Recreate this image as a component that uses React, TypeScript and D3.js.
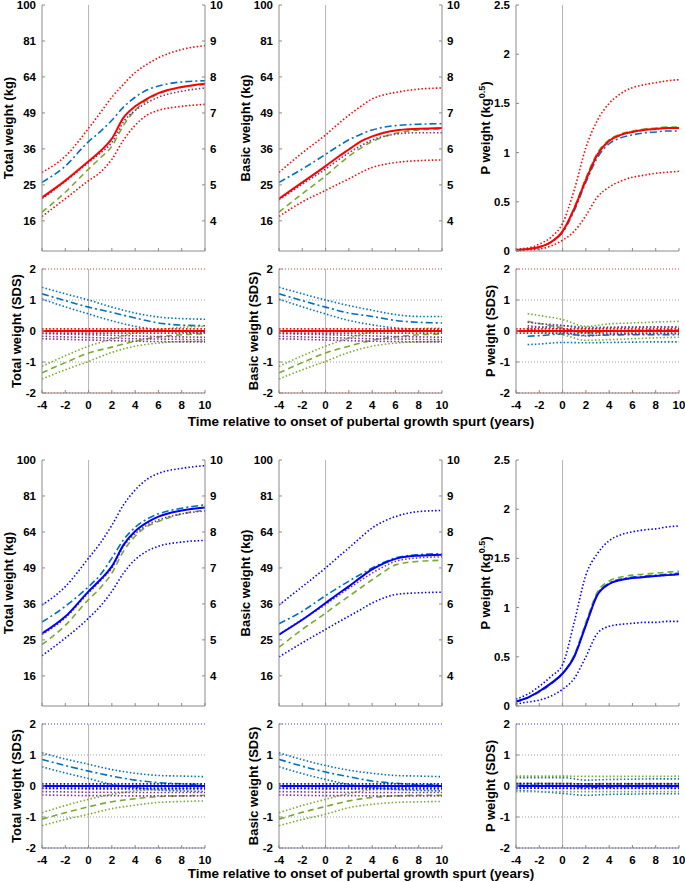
import React from 'react';
import * as d3 from 'd3';

// time points (years relative to onset of pubertal growth spurt)
const tW = [-4, -2, 0, 1, 2, 3, 4, 5, 6, 8, 10];
const tP = [-4, -3, -2, -1, 0, 1, 2, 3, 4, 5, 6, 7, 8, 9, 10];
const tS = [-4, -2, 0, 2, 4, 6, 8, 10];
const tSF = [-3, -2, 0, 2, 4, 6, 8, 10];

// girls, total weight (kg)
const fTotMean = [21.6, 26.2, 32, 35.2, 39.5, 47.2, 51.6, 54.6, 57, 59.6, 61];
const fTotUp = [28.6, 33.6, 43.2, 49, 55.3, 60.8, 66, 69.7, 72.8, 76.8, 78.7];
const fTotLo = [17, 21.3, 26.2, 28.6, 32.6, 39, 44.3, 48.1, 50, 51.6, 52.4];
const fTotBlue = [25.7, 30.5, 38.5, 42, 46.2, 51.3, 55.3, 58.3, 60, 61.8, 62.3];
const fTotGreen = [18, 23, 29.6, 33, 36.9, 44.3, 50, 54, 56.7, 59.5, 60.7];
const fTotPurple = [21.3, 26, 31.6, 34.6, 38.2, 45.6, 50, 53, 55.3, 57.8, 59.2];
// girls, basic weight (kg)
const fBasMean = [21.3, 25.7, 30.5, 33.2, 35.8, 38.5, 40.3, 41.6, 42.4, 43, 43.3];
const fBasUp = [28.6, 34.7, 40.8, 44.5, 48.1, 51.5, 54.6, 56.3, 57.3, 58.7, 59.2];
const fBasLo = [17, 20.5, 23.5, 25.1, 26.7, 28.5, 30.1, 31, 31.6, 32.2, 32.4];
const fBasBlue = [25.7, 29.6, 34.2, 36.7, 39.1, 41, 42.6, 43.6, 44.2, 44.7, 44.9];
const fBasGreen = [18, 22.6, 27.6, 30.6, 33.6, 36.2, 38.5, 40.2, 41.4, 42.6, 43];
const fBasPurple = [21, 25.2, 29.6, 32.2, 34.7, 37, 39, 40.3, 41.1, 41.6, 41.6];
// girls, P weight (kg^0.5)
const fPMean = [0.01, 0.02, 0.04, 0.09, 0.2, 0.43, 0.72, 0.98, 1.12, 1.18, 1.21, 1.23, 1.24, 1.25, 1.25];
const fPUp = [0.02, 0.03, 0.07, 0.14, 0.28, 0.62, 1.05, 1.33, 1.5, 1.6, 1.66, 1.69, 1.71, 1.73, 1.74];
const fPLo = [0, 0.01, 0.02, 0.05, 0.11, 0.2, 0.36, 0.55, 0.65, 0.71, 0.75, 0.77, 0.79, 0.8, 0.81];
const fPBlue = [0.01, 0.02, 0.04, 0.09, 0.19, 0.41, 0.7, 0.95, 1.09, 1.15, 1.18, 1.2, 1.21, 1.22, 1.22];
const fPGreen = [0.01, 0.02, 0.04, 0.09, 0.2, 0.44, 0.74, 1.0, 1.13, 1.19, 1.22, 1.24, 1.25, 1.26, 1.26];
const fPPurple = [0.01, 0.02, 0.04, 0.09, 0.2, 0.43, 0.73, 0.98, 1.12, 1.18, 1.21, 1.23, 1.24, 1.25, 1.25];

// boys, total weight (kg)
const mTotMean = [26.8, 31.9, 40.3, 44.5, 49.6, 58.4, 64.3, 68.2, 71, 73.9, 75.3];
const mTotUp = [35.6, 42, 52.9, 59.1, 67, 76.6, 84, 89.5, 92.7, 95.4, 96.9];
const mTotLo = [20.8, 25.5, 31.4, 35.2, 40.3, 47, 52.3, 55.7, 57.8, 59.6, 60.3];
const mTotBlue = [30.2, 35.2, 42, 46.3, 52.9, 60.5, 66.1, 69.8, 72.3, 75, 76.6];
const mTotGreen = [23.7, 29.2, 37.5, 41.5, 47, 55.7, 62.1, 66.4, 68.7, 72.3, 73.9];
const mTotPurple = [26.5, 31.5, 39.8, 44, 49, 57.7, 63.2, 67, 69.4, 72.3, 73.7];
// boys, basic weight (kg)
const mBasMean = [26.5, 30.9, 36.3, 39.2, 42.1, 45.3, 48.4, 50.8, 52.6, 53.9, 54.3];
const mBasUp = [35.6, 42, 49, 53, 57.1, 61.5, 65.8, 68.8, 71, 73.4, 73.9];
const mBasLo = [20.5, 24.2, 28, 30, 32, 34.1, 36.3, 38, 39.2, 39.8, 40];
const mBasBlue = [29.7, 33.6, 38.8, 41.4, 44, 46.5, 49, 51.2, 53, 54.3, 54.7];
const mBasGreen = [23, 28, 33, 35.8, 38.6, 41.5, 44.5, 47.5, 50.2, 51.6, 52];
const mBasPurple = [26.5, 31, 35.8, 38.6, 41.4, 44.2, 47, 49.5, 51.6, 53, 53.4];
// boys, P weight (kg^0.5)
const mPMean = [0.045, 0.085, 0.15, 0.23, 0.33, 0.5, 0.82, 1.13, 1.24, 1.28, 1.3, 1.31, 1.32, 1.33, 1.34];
const mPUp = [0.07, 0.12, 0.2, 0.3, 0.42, 0.85, 1.33, 1.55, 1.68, 1.74, 1.77, 1.79, 1.8, 1.82, 1.83];
const mPLo = [0.02, 0.04, 0.06, 0.1, 0.17, 0.28, 0.5, 0.74, 0.81, 0.83, 0.84, 0.85, 0.85, 0.86, 0.86];
const mPBlue = [0.045, 0.085, 0.15, 0.23, 0.33, 0.51, 0.83, 1.14, 1.25, 1.29, 1.31, 1.32, 1.33, 1.34, 1.35];
const mPGreen = [0.04, 0.08, 0.14, 0.22, 0.33, 0.52, 0.85, 1.16, 1.27, 1.31, 1.33, 1.34, 1.35, 1.36, 1.37];
const mPPurple = [0.045, 0.085, 0.15, 0.23, 0.33, 0.5, 0.82, 1.13, 1.24, 1.28, 1.3, 1.31, 1.32, 1.33, 1.34];

// SDS, girls
const fTotSdsBlue = [1.2, 0.98, 0.77, 0.6, 0.42, 0.26, 0.19, 0.17];
const fTotSdsBlueUp = [1.41, 1.2, 1.0, 0.77, 0.58, 0.45, 0.4, 0.38];
const fTotSdsBlueLo = [1.03, 0.78, 0.55, 0.33, 0.15, 0.04, -0.03, -0.06];
const fTotSdsGreen = [-1.35, -1.02, -0.71, -0.52, -0.33, -0.19, -0.12, -0.09];
const fTotSdsGreenUp = [-1.14, -0.8, -0.49, -0.26, -0.06, 0.04, 0.12, 0.15];
const fTotSdsGreenLo = [-1.55, -1.25, -0.98, -0.69, -0.49, -0.39, -0.34, -0.33];
const fBasSdsBlue = [1.2, 0.98, 0.77, 0.58, 0.47, 0.34, 0.28, 0.26];
const fBasSdsBlueUp = [1.41, 1.2, 1.0, 0.82, 0.67, 0.53, 0.47, 0.47];
const fBasSdsBlueLo = [1.03, 0.78, 0.55, 0.34, 0.2, 0.1, 0.06, 0.04];
const fBasSdsGreen = [-1.35, -1.02, -0.71, -0.49, -0.3, -0.19, -0.12, -0.1];
const fBasSdsGreenUp = [-1.14, -0.8, -0.49, -0.23, -0.03, 0.04, 0.08, 0.09];
const fBasSdsGreenLo = [-1.55, -1.25, -0.98, -0.69, -0.49, -0.39, -0.35, -0.34];
const fSdsPurple = [-0.17, -0.19, -0.21, -0.23, -0.25, -0.26, -0.27, -0.28];
const fSdsPurpleUp = [-0.08, -0.1, -0.12, -0.14, -0.16, -0.18, -0.19, -0.2];
const fSdsPurpleLo = [-0.25, -0.27, -0.29, -0.31, -0.33, -0.34, -0.35, -0.35];
const fPSdsGreen = [0.31, 0.24, 0.1, -0.06, -0.01, 0.02, 0.03, 0.04];
const fPSdsGreenUp = [0.56, 0.5, 0.37, 0.15, 0.23, 0.26, 0.29, 0.31];
const fPSdsGreenLo = [0.04, -0.02, -0.12, -0.3, -0.28, -0.25, -0.22, -0.2];
const fPSdsBlue = [-0.17, -0.15, -0.1, -0.14, -0.13, -0.12, -0.12, -0.12];
const fPSdsBlueUp = [0.1, 0.12, 0.17, 0.12, 0.12, 0.13, 0.13, 0.13];
const fPSdsBlueLo = [-0.44, -0.42, -0.37, -0.38, -0.37, -0.36, -0.35, -0.35];
const fPSdsPurple = [0.17, 0.13, 0.07, -0.04, 0, 0.01, 0.02, 0.02];
const fPSdsPurpleUp = [0.28, 0.24, 0.18, 0.08, 0.11, 0.12, 0.13, 0.13];
const fPSdsPurpleLo = [0.06, 0.02, -0.04, -0.16, -0.11, -0.1, -0.09, -0.09];

// SDS, boys
const mTotSdsBlue = [0.86, 0.66, 0.48, 0.32, 0.19, 0.11, 0.07, 0.05];
const mTotSdsBlueUp = [1.07, 0.87, 0.7, 0.53, 0.41, 0.34, 0.32, 0.3];
const mTotSdsBlueLo = [0.62, 0.42, 0.24, 0.05, -0.05, -0.13, -0.16, -0.18];
const mTotSdsGreen = [-1.07, -0.86, -0.67, -0.51, -0.41, -0.34, -0.32, -0.3];
const mTotSdsGreenUp = [-0.86, -0.63, -0.43, -0.27, -0.16, -0.11, -0.09, -0.06];
const mTotSdsGreenLo = [-1.28, -1.08, -0.91, -0.73, -0.62, -0.53, -0.5, -0.48];
const mBasSdsBlue = [0.86, 0.64, 0.45, 0.3, 0.16, 0.09, 0.05, 0.05];
const mBasSdsBlueUp = [1.07, 0.85, 0.66, 0.51, 0.41, 0.34, 0.32, 0.3];
const mBasSdsBlueLo = [0.62, 0.4, 0.21, 0.05, -0.05, -0.11, -0.14, -0.16];
const mBasSdsGreen = [-1.07, -0.85, -0.66, -0.48, -0.37, -0.32, -0.3, -0.3];
const mBasSdsGreenUp = [-0.86, -0.63, -0.43, -0.24, -0.11, -0.05, -0.02, -0.02];
const mBasSdsGreenLo = [-1.28, -1.08, -0.91, -0.7, -0.59, -0.53, -0.51, -0.5];
const mSdsPurple = [-0.18, -0.19, -0.2, -0.2, -0.21, -0.21, -0.21, -0.21];
const mSdsPurpleUp = [-0.08, -0.09, -0.1, -0.1, -0.11, -0.11, -0.11, -0.11];
const mSdsPurpleLo = [-0.29, -0.3, -0.31, -0.31, -0.32, -0.32, -0.32, -0.32];
const mPSdsGreen = [0.08, 0.08, 0.08, 0.07, 0.07, 0.07, 0.07, 0.07];
const mPSdsGreenUp = [0.32, 0.32, 0.32, 0.31, 0.31, 0.31, 0.31, 0.32];
const mPSdsGreenLo = [-0.18, -0.18, -0.18, -0.18, -0.18, -0.18, -0.18, -0.18];
const mPSdsBlue = [0.02, 0.02, 0.01, -0.04, -0.03, -0.02, -0.02, -0.02];
const mPSdsBlueUp = [0.27, 0.27, 0.27, 0.19, 0.21, 0.22, 0.23, 0.23];
const mPSdsBlueLo = [-0.13, -0.18, -0.24, -0.3, -0.27, -0.26, -0.25, -0.25];
const mPSdsPurple = [0.01, 0.01, 0, -0.01, 0, 0, 0, 0];
const mPSdsPurpleUp = [0.09, 0.09, 0.08, 0.07, 0.08, 0.08, 0.08, 0.08];
const mPSdsPurpleLo = [-0.07, -0.07, -0.08, -0.09, -0.08, -0.08, -0.08, -0.08];

// reference (whole group) SDS: mean and band
const refSds = [0, 0, 0, 0, 0, 0, 0, 0];
const refSdsUp = [0.07, 0.07, 0.07, 0.07, 0.07, 0.07, 0.07, 0.07];
const refSdsLo = [-0.07, -0.07, -0.07, -0.07, -0.07, -0.07, -0.07, -0.07];

const xTicks = [-4, -2, 0, 2, 4, 6, 8, 10];
const kgTicks = [16, 25, 36, 49, 64, 81, 100];
const rootTicks = [4, 5, 6, 7, 8, 9, 10];
const pTicks = [0, 0.5, 1, 1.5, 2, 2.5];
const sdsTicks = [-2, -1, 0, 1, 2];

const RED = '#ff0000';
const BLUE = '#0000ff';
const SUB = '#0072bd';
const GREEN = '#77ac30';
const PURPLE = '#7e2f8e';
const AXIS = '#8a8a8a';
const FONT = '"Liberation Sans", Arial, sans-serif';
const TICK = 11.5;

const dashes: Record<string, string | undefined> = {
  solid: undefined,
  dot: '1.5 2.1',
  dash: '6 4',
  dashdot: '7 3 2 3',
};

type Series = { t: number[]; v: number[]; color: string; style: string; w?: number };

const W = 163;
const cols = [42, 279, 516];
let clipCount = 0;

function Panel(props: {
  x0: number; y0: number; h: number;
  y: any; yTicks: number[]; yFmt?: (d: number) => string;
  right?: any; series: Series[]; label: React.ReactNode; gap: number;
  refs?: { v: number; color: string }[]; xLabels?: boolean;
}) {
  const { x0, y0, h, y, yTicks, yFmt, right, series, label, gap, refs, xLabels } = props;
  const x = d3.scaleLinear().domain([-4, 10]).range([x0, x0 + W]);
  const yb = y0 + h;
  const id = `clip${clipCount++}`;
  const fmt = yFmt || ((d: number) => String(d));
  return (
    <g>
      <defs>
        <clipPath id={id}>
          <rect x={x0} y={y0 - 2} width={W + 1} height={h + 4} />
        </clipPath>
      </defs>
      {(refs || []).map((r, i) => (
        <line key={'r' + i} x1={x0} x2={x0 + W} y1={y(r.v)} y2={y(r.v)}
          stroke={r.color} strokeWidth={0.8} strokeDasharray="1 2" />
      ))}
      <line x1={x(0)} x2={x(0)} y1={y0} y2={yb} stroke="#b4b4b4" strokeWidth={1} />
      <g clipPath={`url(#${id})`}>
        {series.map((s, i) => {
          const line = d3.line<number>()
            .x((_, j) => x(s.t[j]))
            .y((v) => y(v))
            .curve(d3.curveMonotoneX);
          return (
            <path key={i} d={line(s.v) || ''} fill="none" stroke={s.color}
              strokeWidth={s.w || 1.6} strokeDasharray={dashes[s.style]} />
          );
        })}
      </g>
      {/* axes */}
      <line x1={x0} x2={x0} y1={y0} y2={yb} stroke={AXIS} />
      <line x1={x0} x2={x0 + W} y1={yb} y2={yb} stroke={AXIS} />
      {xTicks.map((t) => (
        <line key={'xt' + t} x1={x(t)} x2={x(t)} y1={yb} y2={yb - 3} stroke={AXIS} />
      ))}
      {yTicks.map((t) => (
        <g key={'yt' + t}>
          <line x1={x0} x2={x0 + 3} y1={y(t)} y2={y(t)} stroke={AXIS} />
          <text x={x0 - 6} y={y(t)} dy="0.35em" textAnchor="end" fontSize={TICK}
            fontWeight="bold" fontFamily={FONT}>{fmt(t)}</text>
        </g>
      ))}
      {right && (
        <g>
          <line x1={x0 + W} x2={x0 + W} y1={y0} y2={yb} stroke={AXIS} />
          {rootTicks.map((t) => (
            <g key={'rt' + t}>
              <line x1={x0 + W} x2={x0 + W - 3} y1={right(t)} y2={right(t)} stroke={AXIS} />
              <text x={x0 + W + 5} y={right(t)} dy="0.35em" fontSize={TICK}
                fontWeight="bold" fontFamily={FONT}>{t}</text>
            </g>
          ))}
        </g>
      )}
      {xLabels && xTicks.map((t) => (
        <text key={'xl' + t} x={x(t)} y={yb + 16} textAnchor="middle" fontSize={TICK}
          fontWeight="bold" fontFamily={FONT}>{t}</text>
      ))}
      <text transform={`translate(${x0 - gap},${y0 + h / 2}) rotate(-90)`} textAnchor="middle"
        dy="0.35em" fontSize={13} fontWeight="bold" fontFamily={FONT}>{label}</text>
    </g>
  );
}

function Group(props: { dy: number; main: string; d: any; titleY: number }) {
  const { dy, main, d, titleY } = props;
  const top = 5 + dy;
  const hTop = 246;
  const sTop = 269 + dy;
  const hS = 124;
  const kg = d3.scaleSqrt().domain([10, 100]).range([top + hTop, top]);
  const root = d3.scaleLinear().domain([Math.sqrt(10), 10]).range([top + hTop, top]);
  const p = d3.scaleLinear().domain([0, 2.5]).range([top + hTop, top]);
  const sds = d3.scaleLinear().domain([-2, 2]).range([sTop + hS, sTop]);
  const refs = [
    { v: 2, color: main }, { v: 1, color: '#888' }, { v: -1, color: '#888' }, { v: -2, color: main },
  ];
  const topSeries = (t: number[], m: number[], u: number[], l: number[], b: number[], g: number[], pu: number[]): Series[] => [
    { t, v: u, color: main, style: 'dot' },
    { t, v: l, color: main, style: 'dot' },
    { t, v: b, color: SUB, style: 'dashdot' },
    { t, v: g, color: GREEN, style: 'dash' },
    { t, v: pu, color: PURPLE, style: 'dot' },
    { t, v: m, color: main, style: 'solid', w: 2 },
  ];
  const sdsSeries = (t: number[], b: number[][], g: number[][], pu: number[][]): Series[] => [
    { t, v: b[1], color: SUB, style: 'dot' },
    { t, v: b[2], color: SUB, style: 'dot' },
    { t, v: b[0], color: SUB, style: 'dashdot' },
    { t, v: g[1], color: GREEN, style: 'dot' },
    { t, v: g[2], color: GREEN, style: 'dot' },
    { t, v: g[0], color: GREEN, style: 'dash' },
    { t, v: pu[1], color: PURPLE, style: 'dot' },
    { t, v: pu[2], color: PURPLE, style: 'dot' },
    { t, v: pu[0], color: PURPLE, style: 'dot' },
    { t: tS, v: refSdsUp, color: main, style: 'dot' },
    { t: tS, v: refSdsLo, color: main, style: 'dot' },
    { t: tS, v: refSds, color: main, style: 'solid', w: 2 },
  ];
  return (
    <g>
      <Panel x0={cols[0]} y0={top} h={hTop} y={kg} yTicks={kgTicks} right={root} gap={34}
        label="Total weight (kg)" series={topSeries(tW, d.tot[0], d.tot[1], d.tot[2], d.tot[3], d.tot[4], d.tot[5])} />
      <Panel x0={cols[1]} y0={top} h={hTop} y={kg} yTicks={kgTicks} right={root} gap={34}
        label="Basic weight (kg)" series={topSeries(tW, d.bas[0], d.bas[1], d.bas[2], d.bas[3], d.bas[4], d.bas[5])} />
      <Panel x0={cols[2]} y0={top} h={hTop} y={p} yTicks={pTicks} gap={31}
        label={<>P weight (kg<tspan dy="-5" fontSize={9}>0.5</tspan><tspan dy="5">)</tspan></>}
        series={topSeries(tP, d.p[0], d.p[1], d.p[2], d.p[3], d.p[4], d.p[5])} />
      <Panel x0={cols[0]} y0={sTop} h={hS} y={sds} yTicks={sdsTicks} gap={26} refs={refs} xLabels
        label="Total weight (SDS)" series={sdsSeries(tS, d.totS[0], d.totS[1], d.purS)} />
      <Panel x0={cols[1]} y0={sTop} h={hS} y={sds} yTicks={sdsTicks} gap={26} refs={refs} xLabels
        label="Basic weight (SDS)" series={sdsSeries(tS, d.basS[0], d.basS[1], d.purS)} />
      <Panel x0={cols[2]} y0={sTop} h={hS} y={sds} yTicks={sdsTicks} gap={26} refs={refs} xLabels
        label="P weight (SDS)" series={sdsSeries(d.pT, d.pS[0], d.pS[1], d.pS[2])} />
      <text x={361} y={titleY} textAnchor="middle" fontSize={13.5} fontWeight="bold"
        fontFamily={FONT}>Time relative to onset of pubertal growth spurt (years)</text>
    </g>
  );
}

const girls = {
  tot: [fTotMean, fTotUp, fTotLo, fTotBlue, fTotGreen, fTotPurple],
  bas: [fBasMean, fBasUp, fBasLo, fBasBlue, fBasGreen, fBasPurple],
  p: [fPMean, fPUp, fPLo, fPBlue, fPGreen, fPPurple],
  totS: [[fTotSdsBlue, fTotSdsBlueUp, fTotSdsBlueLo], [fTotSdsGreen, fTotSdsGreenUp, fTotSdsGreenLo]],
  basS: [[fBasSdsBlue, fBasSdsBlueUp, fBasSdsBlueLo], [fBasSdsGreen, fBasSdsGreenUp, fBasSdsGreenLo]],
  purS: [fSdsPurple, fSdsPurpleUp, fSdsPurpleLo],
  pT: tSF,
  pS: [[fPSdsBlue, fPSdsBlueUp, fPSdsBlueLo], [fPSdsGreen, fPSdsGreenUp, fPSdsGreenLo], [fPSdsPurple, fPSdsPurpleUp, fPSdsPurpleLo]],
};

const boys = {
  tot: [mTotMean, mTotUp, mTotLo, mTotBlue, mTotGreen, mTotPurple],
  bas: [mBasMean, mBasUp, mBasLo, mBasBlue, mBasGreen, mBasPurple],
  p: [mPMean, mPUp, mPLo, mPBlue, mPGreen, mPPurple],
  totS: [[mTotSdsBlue, mTotSdsBlueUp, mTotSdsBlueLo], [mTotSdsGreen, mTotSdsGreenUp, mTotSdsGreenLo]],
  basS: [[mBasSdsBlue, mBasSdsBlueUp, mBasSdsBlueLo], [mBasSdsGreen, mBasSdsGreenUp, mBasSdsGreenLo]],
  purS: [mSdsPurple, mSdsPurpleUp, mSdsPurpleLo],
  pT: tS,
  pS: [[mPSdsBlue, mPSdsBlueUp, mPSdsBlueLo], [mPSdsGreen, mPSdsGreenUp, mPSdsGreenLo], [mPSdsPurple, mPSdsPurpleUp, mPSdsPurpleLo]],
};

export default function App() {
  clipCount = 0;
  return (
    <svg width={685} height={882} style={{ position: 'absolute', left: 0, top: 0, background: '#fff' }}>
      <Group dy={0} main={RED} d={girls} titleY={426} />
      <Group dy={455} main={BLUE} d={boys} titleY={878} />
    </svg>
  );
}
